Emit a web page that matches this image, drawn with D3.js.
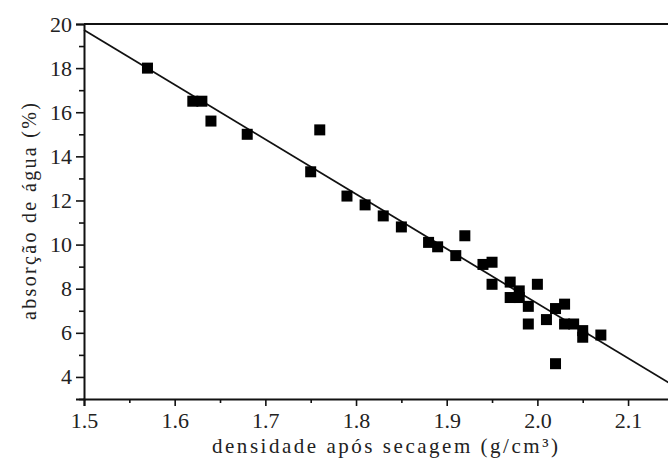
<!DOCTYPE html>
<html>
<head>
<meta charset="utf-8">
<script src="https://cdn.jsdelivr.net/npm/d3@7/dist/d3.min.js"></script>
<style>
html,body{margin:0;padding:0;background:#fff;}
svg{display:block;}
</style>
</head>
<body>
<svg id="chart" width="668" height="465"></svg>
<script>
// Data
const density = [1.57,1.62,1.63,1.64,1.68,1.75,1.76,1.79,1.81,1.83,1.85,1.88,1.89,1.91,1.92,1.94,1.95,1.95,1.97,1.98,1.97,1.98,1.99,2.00,1.99,2.01,2.02,2.03,2.03,2.04,2.05,2.05,2.07,2.02];
const absorption = [18.0,16.5,16.5,15.6,15.0,13.3,15.2,12.2,11.8,11.3,10.8,10.1,9.9,9.5,10.4,9.1,9.2,8.2,8.3,7.9,7.6,7.6,7.2,8.2,6.4,6.6,7.1,7.3,6.4,6.4,6.1,5.8,5.9,4.6];
const fitX = [1.5, 2.15];
const fitY = [19.73, 3.61];
const xTicks = [1.5,1.6,1.7,1.8,1.9,2.0,2.1];
const xMinor = [1.55,1.65,1.75,1.85,1.95,2.05,2.15];
const yTicks = [4,6,8,10,12,14,16,18,20];
const yMinor = [3,5,7,9,11,13,15,17,19];
const xLabel = "densidade após secagem (g/cm³)";
const yLabel = "absorção de água (%)";

const FONT = "Liberation Serif";
const svg = d3.select("#chart");
const mLeft = 84, mTop = 24, mBottom = 399, mRight = 673.4;
const x = d3.scaleLinear().domain([1.5, 2.15]).range([mLeft, mRight]);
const y = d3.scaleLinear().domain([3, 20]).range([mBottom, mTop]);

// frame top
svg.append("line").attr("x1", mLeft).attr("x2", 668).attr("y1", mTop).attr("y2", mTop)
  .attr("stroke", "#111").attr("stroke-width", 2);

// x axis
const gx = svg.append("g").attr("transform", `translate(0,${mBottom})`)
  .call(d3.axisBottom(x).tickValues(xTicks).tickFormat(d3.format(".1f")).tickSize(7).tickPadding(6));
svg.append("g").attr("transform", `translate(0,${mBottom})`)
  .call(d3.axisBottom(x).tickValues(xMinor).tickFormat("").tickSize(4))
  .select(".domain").remove();
// y axis
const gy = svg.append("g").attr("transform", `translate(${mLeft},0)`)
  .call(d3.axisLeft(y).tickValues(yTicks).tickFormat(d3.format("d")).tickSize(8).tickPadding(4));
svg.append("g").attr("transform", `translate(${mLeft},0)`)
  .call(d3.axisLeft(y).tickValues(yMinor).tickFormat("").tickSize(5))
  .select(".domain").remove();

[gx, gy].forEach(g => g.attr("font-family", FONT).attr("font-size", 22));
svg.selectAll(".domain").attr("stroke", "#111").attr("stroke-width", 2);
svg.selectAll(".tick line").attr("stroke", "#111").attr("stroke-width", 1.6);
svg.selectAll(".tick text").attr("font-family", FONT).attr("font-size", 22).attr("fill", "#222");

// fit line
svg.append("path")
  .datum(fitX.map((d, i) => [d, fitY[i]]))
  .attr("d", d3.line().x(d => x(d[0])).y(d => y(d[1])))
  .attr("stroke", "#111").attr("stroke-width", 1.8).attr("fill", "none");

// points
const s = 11;
svg.append("g").selectAll("rect")
  .data(density.map((d, i) => [d, absorption[i]]))
  .join("rect")
  .attr("x", d => x(d[0]) - s / 2)
  .attr("y", d => y(d[1]) - s / 2)
  .attr("width", s).attr("height", s)
  .attr("fill", "#000");

// axis titles
svg.append("text").attr("x", 385).attr("y", 453).attr("text-anchor", "middle")
  .attr("font-family", FONT).attr("font-size", 21).attr("fill", "#222")
  .attr("textLength", 346).attr("lengthAdjust", "spacing").text(xLabel);
svg.append("text").attr("transform", "translate(36,211.5) rotate(-90)").attr("text-anchor", "middle")
  .attr("font-family", FONT).attr("font-size", 20).attr("fill", "#222")
  .attr("textLength", 217).attr("lengthAdjust", "spacing").text(yLabel);
</script>
</body>
</html>
